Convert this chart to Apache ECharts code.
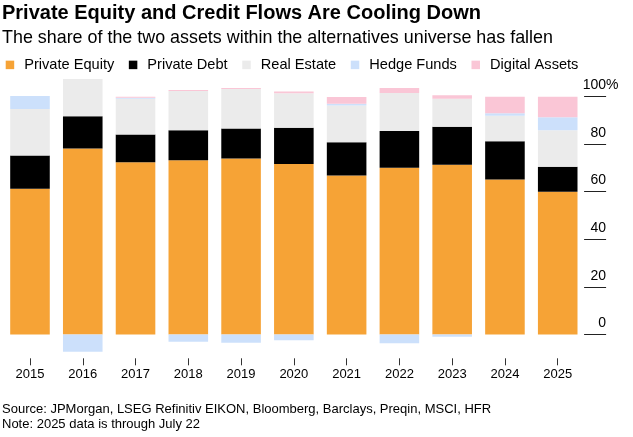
<!DOCTYPE html>
<html>
<head>
<meta charset="utf-8">
<script src="https://cdn.jsdelivr.net/npm/echarts@6/dist/echarts.min.js"></script>
<style>
  html, body { margin: 0; padding: 0; background: #fff; }
  #chart { width: 633px; height: 437px; }
</style>
</head>
<body>
<div id="chart"></div>
<script>
const years = ['2015', '2016', '2017', '2018', '2019', '2020', '2021', '2022', '2023', '2024', '2025'];
const privateEquity = [61.2, 78.1, 72.3, 73.2, 73.9, 71.6, 66.8, 70.0, 71.3, 65.1, 59.9];
const privateDebt   = [14.0, 13.5, 11.7, 12.6, 12.6, 15.2, 13.9, 15.4, 15.9, 16.0, 10.5];
const realEstate    = [19.5, 15.7, 15.0, 16.4, 16.6, 14.5, 15.4, 16.0, 11.8, 10.7, 15.4];
const hedgeFunds    = [5.4, -7.3, 0.4, -3.1, -3.5, -2.4, 0.8, -3.7, -1.0, 1.1, 5.4];
const digitalAssets = [0, 0, 0.4, 0.4, 0.4, 0.7, 2.8, 2.1, 1.5, 6.9, 8.6];
const yTicks = [0, 20, 40, 60, 80, 100];

const FONT = '"Liberation Sans", Arial, sans-serif';
const chart = echarts.init(document.getElementById('chart'), null, { renderer: 'canvas' });

function bar(name, data, color) {
  return {
    name: name, type: 'bar', stack: 'total', data: data,
    barCategoryGap: '25%',
    itemStyle: { color: color },
    emphasis: { disabled: true },
    animation: false
  };
}

const option = {
  backgroundColor: '#fff',
  animation: false,
  textStyle: { fontFamily: FONT },
  title: [
    { text: 'Private Equity and Credit Flows Are Cooling Down', left: 2, top: 3, padding: 0,
      textStyle: { fontFamily: FONT, fontSize: 20, fontWeight: 'bold', color: '#000', lineHeight: 20 } },
    { text: 'The share of the two assets within the alternatives universe has fallen', left: 2, top: 29.3, padding: 0,
      textStyle: { fontFamily: FONT, fontSize: 17.9, fontWeight: 'normal', color: '#000', lineHeight: 17.9 } },
    { text: 'Source: JPMorgan, LSEG Refinitiv EIKON, Bloomberg, Barclays, Preqin, MSCI, HFR\nNote: 2025 data is through July 22',
      left: 2, top: 402.5, padding: 0,
      textStyle: { fontFamily: FONT, fontSize: 13, fontWeight: 'normal', color: '#000', lineHeight: 14.7 } }
  ],
  legend: {
    left: 5.7, top: 57.4, padding: 0, itemWidth: 8.5, itemHeight: 8.5, itemGap: 14.6,
    icon: 'rect',
    textStyle: { fontFamily: FONT, fontSize: 14.6, color: '#000', lineHeight: 14.6, padding: [0, 0, 0, 5] },
    data: ['Private Equity', 'Private Debt', 'Real Estate', 'Hedge Funds', 'Digital Assets']
  },
  grid: { left: 3.6, right: 48.9, top: 72.5, bottom: 78.7, containLabel: false },
  xAxis: {
    type: 'category', data: years,
    axisLine: { show: false, onZero: false },
    axisTick: { show: true, alignWithLabel: true, length: 7, lineStyle: { color: '#333', width: 1 } },
    axisLabel: { fontFamily: FONT, fontSize: 13, color: '#000', margin: 10 },
    splitLine: { show: false }
  },
  yAxis: [
    {
      type: 'value', position: 'right', min: -10, max: 110,
      axisLine: { show: false },
      splitLine: { show: false },
      axisTick: { show: true, inside: false, length: 22, customValues: yTicks, lineStyle: { color: '#222', width: 1 } },
      axisLabel: {
        customValues: yTicks, fontFamily: FONT, fontSize: 14, color: '#000',
        align: 'right', verticalAlign: 'bottom', margin: 22, lineHeight: 14, padding: [0, 0, 4, 0]
      }
    },
    {
      type: 'value', position: 'right', min: -10, max: 110,
      axisLine: { show: false }, splitLine: { show: false }, axisTick: { show: false },
      axisLabel: {
        customValues: [100], formatter: function () { return '%'; },
        fontFamily: FONT, fontSize: 14, color: '#000',
        align: 'left', verticalAlign: 'bottom', margin: 22, lineHeight: 14, padding: [0, 0, 4, 0]
      }
    }
  ],
  series: [
    bar('Private Equity', privateEquity, '#f6a336'),
    bar('Private Debt', privateDebt, '#000000'),
    bar('Real Estate', realEstate, '#ebebeb'),
    bar('Hedge Funds', hedgeFunds, '#cce0fb'),
    bar('Digital Assets', digitalAssets, '#fac6d6')
  ]
};
chart.setOption(option);
</script>
</body>
</html>
